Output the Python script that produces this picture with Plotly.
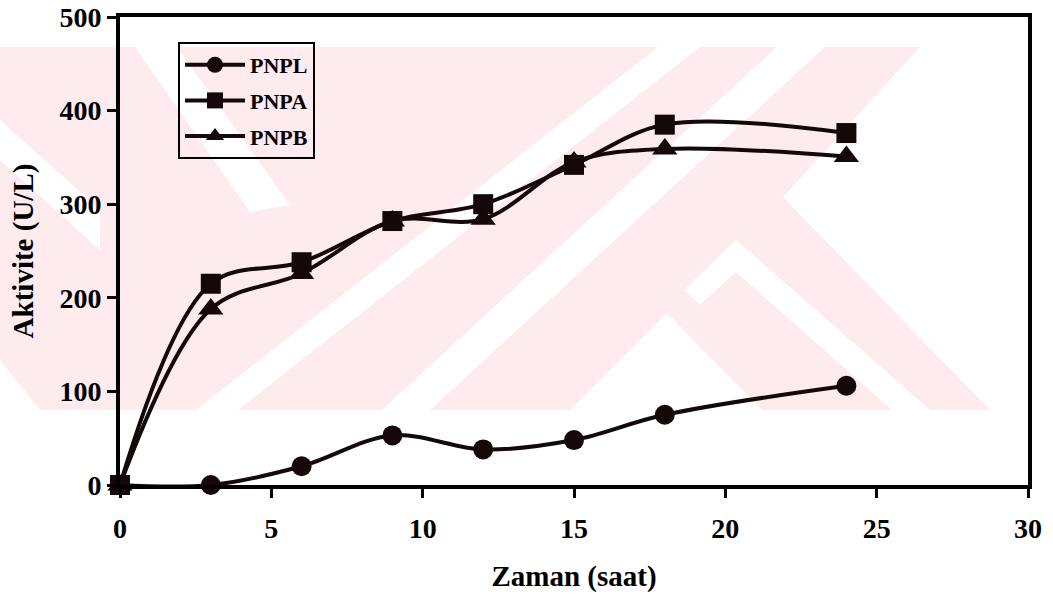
import plotly.graph_objects as go

# ---- data ----
hours = [0, 3, 6, 9, 12, 15, 18, 24]
pnpl = [0, 0, 20, 53, 38, 48, 75, 106]
pnpa = [0, 215, 238, 282, 300, 342, 385, 376]
pnpb = [0, 188, 226, 282, 284, 345, 359, 351]
series_names = ["PNPL", "PNPA", "PNPB"]
x_ticks = [0, 5, 10, 15, 20, 25, 30]
y_ticks = [0, 100, 200, 300, 400, 500]

W, H = 1053, 600
ML, MR, MT, MB = 120, 25, 17, 115
PW, PH = W - ML - MR, H - MT - MB

def px(x):
    return (x - ML) / PW

def py(y):
    return (H - MB - y) / PH

# faint background watermark (page pixel coordinates): pink base + white cut-outs
PINK = "#fdebee"
watermark = [
    (PINK, [(0, 47), (920, 47), (783, 197), (990, 410), (40, 410), (0, 360)]),
    ("white", [(196, 410), (238, 410), (700, 47), (658, 47)]),
    ("white", [(382, 410), (430, 410), (825, 47), (777, 47)]),
    ("white", [(570, 410), (667, 313), (762, 410)]),
    ("white", [(736, 240), (930, 410), (892, 410), (736, 272), (700, 305), (684, 290)]),
    ("white", [(135, 47), (177, 47), (290, 205), (250, 212)]),
    ("white", [(0, 120), (0, 160), (100, 250), (100, 210)]),
]

ink = "#140808"
font_family = "Liberation Serif, Times New Roman, serif"

fig = go.Figure()
symbols = ["circle", "square", "triangle-up"]
sizes = [20, 20, 22]
for name, ys, sym, sz in zip(series_names, [pnpl, pnpa, pnpb], symbols, sizes):
    fig.add_trace(go.Scatter(
        x=hours, y=ys, name=name, mode="lines+markers", legendgroup=name,
        line=dict(color=ink, width=4, shape="spline", smoothing=1),
        marker=dict(symbol=sym, size=sz, color=ink),
        cliponaxis=False,
    ))

shapes = []
for color, pts in watermark:
    path = "M " + " L ".join(f"{px(x):.4f},{py(y):.4f}" for x, y in pts) + " Z"
    shapes.append(dict(type="path", path=path, xref="paper", yref="paper",
                       fillcolor=color, line=dict(width=0), layer="below"))

fig.update_layout(
    width=W, height=H,
    margin=dict(l=ML, r=MR, t=MT, b=MB),
    paper_bgcolor="white", plot_bgcolor="rgba(0,0,0,0)",
    font=dict(family=font_family, color="black", size=20, weight="bold"),
    shapes=shapes,
    showlegend=True,
    legend=dict(
        x=px(178), y=py(42), xanchor="left", yanchor="top",
        bgcolor="rgba(0,0,0,0)", bordercolor="black", borderwidth=2,
        font=dict(size=22, family=font_family, weight="bold"),
        tracegroupgap=4, itemwidth=60,
    ),
    xaxis=dict(
        range=[0, 30], tickvals=x_ticks, ticks="outside", ticklen=9, tickwidth=3,
        tickcolor="black", showline=True, linewidth=4, linecolor="black", mirror=True,
        showgrid=False, zeroline=False, automargin=False, ticklabelstandoff=6,
        tickfont=dict(size=28, family=font_family, weight="bold"),
        title=dict(text="Zaman (saat)", font=dict(size=29, family=font_family, weight="bold"), standoff=24),
    ),
    yaxis=dict(
        range=[0, 500], tickvals=y_ticks, ticks="outside", ticklen=9, tickwidth=3,
        tickcolor="black", showline=True, linewidth=4, linecolor="black", mirror=True,
        showgrid=False, zeroline=False, automargin=False,
        tickfont=dict(size=28, family=font_family, weight="bold"),
        title=dict(text="Aktivite (U/L)", font=dict(size=29, family=font_family, weight="bold"), standoff=18),
    ),
)

fig.write_html("out.html")
